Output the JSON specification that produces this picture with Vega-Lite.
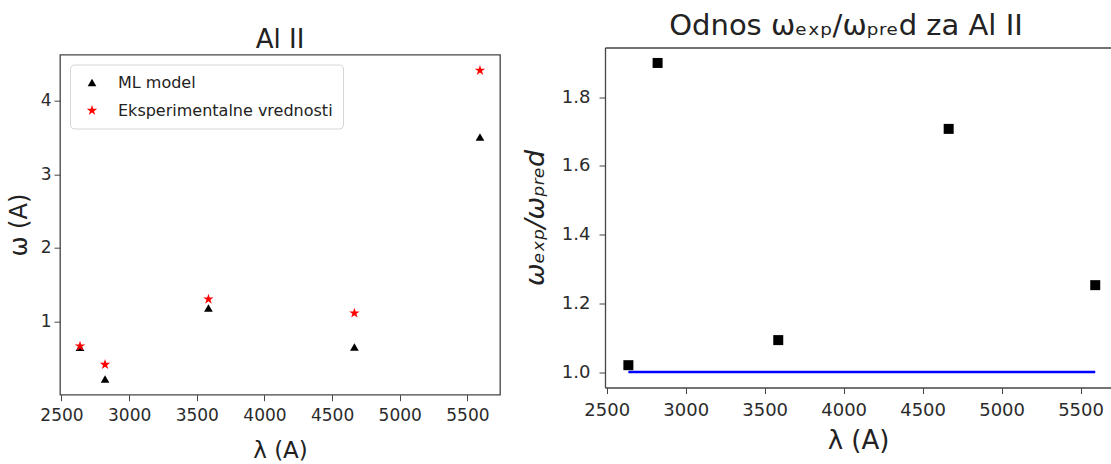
{
  "$schema": "https://vega.github.io/schema/vega-lite/v6.json",
  "background": "white",
  "padding": {"left": 6, "top": 9.5, "right": 0, "bottom": 0},
  "spacing": 20,
  "center": true,
  "config": {
    "font": "DejaVu Sans",
    "view": {"stroke": "#444444", "strokeWidth": 1.3},
    "axis": {
      "grid": false,
      "domain": false,
      "domainColor": "#444444",
      "domainWidth": 1.3,
      "tickColor": "#444444",
      "tickSize": 6,
      "labelColor": "#2b2b2b",
      "titleColor": "#222222",
      "labelFont": "DejaVu Sans",
      "titleFont": "DejaVu Sans",
      "titleFontWeight": "normal",
      "titleFontSize": 24
    },
    "title": {"font": "DejaVu Sans", "fontWeight": "normal", "color": "#222222"}
  },
  "datasets": {
    "al2": [
      {"lambda": 2637, "pred": 0.645, "exp": 0.66, "ratio": 1.02},
      {"lambda": 2822, "pred": 0.215, "exp": 0.41, "ratio": 1.9},
      {"lambda": 3586, "pred": 1.18, "exp": 1.3, "ratio": 1.093},
      {"lambda": 4665, "pred": 0.65, "exp": 1.11, "ratio": 1.708},
      {"lambda": 5593, "pred": 3.51, "exp": 4.415, "ratio": 1.253}
    ]
  },
  "hconcat": [
    {
      "width": 440,
      "height": 340,
      "title": {"text": ["", "Al II"], "fontSize": 26, "lineHeight": 16, "offset": 2},
      "data": {"name": "al2"},
      "transform": [{"fold": ["pred", "exp"], "as": ["serija", "omega"]}],
      "mark": {"type": "point", "filled": true, "opacity": 1},
      "encoding": {
        "x": {
          "field": "lambda",
          "type": "quantitative",
          "scale": {"domain": [2489, 5741], "nice": false, "zero": false},
          "axis": {"values": [2500, 3000, 3500, 4000, 4500, 5000, 5500], "format": "d", "title": "λ (A)", "titleFontSize": 23, "labelFontSize": 17, "labelPadding": 7, "titlePadding": 16}
        },
        "y": {
          "field": "omega",
          "type": "quantitative",
          "scale": {"domain": [0, 4.63], "nice": false},
          "axis": {"values": [1, 2, 3, 4], "title": "ω (A)", "labelFontSize": 17, "labelPadding": 3, "titlePadding": 9}
        },
        "size": {
          "field": "serija",
          "type": "nominal",
          "scale": {"domain": ["pred", "exp"], "range": [75, 120]},
          "legend": null
        },
        "shape": {
          "field": "serija",
          "type": "nominal",
          "scale": {
            "domain": ["pred", "exp"],
            "range": ["triangle-up", "M0,-1L0.2245,-0.309L0.9511,-0.309L0.3633,0.118L0.5878,0.809L0,0.382L-0.5878,0.809L-0.3633,0.118L-0.9511,-0.309L-0.2245,-0.309Z"]
          },
          "legend": {
            "title": null,
            "orient": "none",
            "legendX": 10,
            "legendY": 17,
            "fillColor": "white",
            "strokeColor": "#d6d6d6",
            "cornerRadius": 4,
            "padding": 10,
            "rowPadding": 12,
            "labelFontSize": 16,
            "labelColor": "#222222",
            "labelFont": "DejaVu Sans",
            "labelLimit": 400,
            "symbolSize": 55,
            "symbolOffset": 4,
            "labelOffset": 18,
            "symbolStrokeWidth": 0,
            "labelExpr": "datum.value == 'pred' ? 'ML model' : 'Eksperimentalne vrednosti'"
          }
        },
        "color": {
          "field": "serija",
          "type": "nominal",
          "scale": {"domain": ["pred", "exp"], "range": ["#000000", "#ff0000"]},
          "legend": {
            "title": null,
            "orient": "none",
            "legendX": 10,
            "legendY": 17,
            "fillColor": "white",
            "strokeColor": "#d6d6d6",
            "cornerRadius": 4,
            "padding": 10,
            "rowPadding": 12,
            "labelFontSize": 16,
            "labelColor": "#222222",
            "labelFont": "DejaVu Sans",
            "labelLimit": 400,
            "symbolSize": 55,
            "symbolOffset": 4,
            "labelOffset": 18,
            "symbolStrokeWidth": 0,
            "labelExpr": "datum.value == 'pred' ? 'ML model' : 'Eksperimentalne vrednosti'"
          }
        }
      }
    },
    {
      "width": 506,
      "height": 340,
      "view": {"stroke": null},
      "title": {"text": "Odnos ωₑₓₚ/ωₚᵣₑd za Al II", "fontSize": 29, "offset": 7, "dx": -12},
      "data": {"name": "al2"},
      "layer": [
        {
          "mark": {"type": "line", "color": "#0000ff", "strokeWidth": 2.5},
          "encoding": {
            "x": {
              "field": "lambda",
              "type": "quantitative",
              "scale": {"domain": [2489, 5692.8], "nice": false, "zero": false},
              "axis": {"orient": "top", "domain": true, "labels": false, "ticks": false, "title": null}
            },
            "y": {"datum": 1, "type": "quantitative"}
          }
        },
        {
          "mark": {"type": "square", "filled": true, "color": "#000000", "opacity": 1, "size": 100},
          "encoding": {
            "x": {
              "field": "lambda",
              "type": "quantitative",
              "scale": {"domain": [2489, 5692.8], "nice": false, "zero": false},
              "axis": {"orient": "bottom", "domain": true, "values": [2500, 3000, 3500, 4000, 4500, 5000, 5500], "format": "d", "title": ["λ (A)", ""], "titleFontSize": 26, "titleLineHeight": 17, "labelFontSize": 18, "labelPadding": 8, "titlePadding": 8}
            },
            "y": {
              "field": "ratio",
              "type": "quantitative",
              "scale": {"domain": [0.955, 1.945], "nice": false, "zero": false},
              "axis": {"domain": true, "values": [1.0, 1.2, 1.4, 1.6, 1.8], "format": ".1f", "title": "ωₑₓₚ/ωₚᵣₑd", "titleFontStyle": "italic", "titleFontSize": 27, "labelFontSize": 18, "labelPadding": 9, "titlePadding": 12}
            }
          }
        }
      ],
      "resolve": {"axis": {"x": "independent"}}
    }
  ]
}
